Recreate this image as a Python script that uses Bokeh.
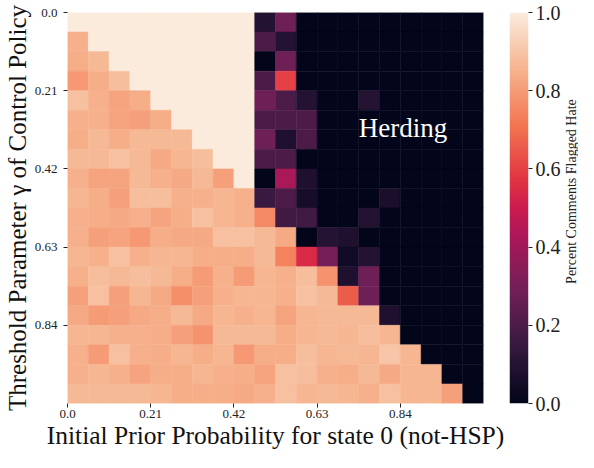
import numpy as np
from bokeh.plotting import figure
from bokeh.layouts import row
from bokeh.models import (LinearColorMapper, FixedTicker, PrintfTickFormatter,
                          Label, ColumnDataSource)
from bokeh.transform import transform
from bokeh.embed import file_html
from bokeh.resources import INLINE

# ---------------- data ----------------
x_tick_labels = ["0.0", "0.21", "0.42", "0.63", "0.84"]
y_tick_labels = ["0.0", "0.21", "0.42", "0.63", "0.84"]
tick_index = [0, 4, 8, 12, 16]
cbar_ticks = [0.0, 0.2, 0.4, 0.6, 0.8, 1.0]

# rows: threshold gamma (top -> bottom), columns: initial prior (left -> right)
flag_rate = [
    [1.00, 1.00, 1.00, 1.00, 1.00, 1.00, 1.00, 1.00, 1.00, 0.09, 0.28, 0.00, 0.00, 0.00, 0.00, 0.00, 0.00, 0.00, 0.00, 0.00],
    [0.85, 1.00, 1.00, 1.00, 1.00, 1.00, 1.00, 1.00, 1.00, 0.20, 0.09, 0.00, 0.00, 0.00, 0.00, 0.00, 0.00, 0.00, 0.00, 0.00],
    [0.84, 0.87, 1.00, 1.00, 1.00, 1.00, 1.00, 1.00, 1.00, 0.00, 0.28, 0.00, 0.00, 0.00, 0.00, 0.00, 0.00, 0.00, 0.00, 0.00],
    [0.79, 0.84, 0.88, 1.00, 1.00, 1.00, 1.00, 1.00, 1.00, 0.20, 0.60, 0.00, 0.00, 0.00, 0.00, 0.00, 0.00, 0.00, 0.00, 0.00],
    [0.89, 0.85, 0.82, 0.84, 1.00, 1.00, 1.00, 1.00, 1.00, 0.28, 0.20, 0.09, 0.00, 0.00, 0.10, 0.00, 0.00, 0.00, 0.00, 0.00],
    [0.85, 0.85, 0.82, 0.81, 0.84, 1.00, 1.00, 1.00, 1.00, 0.20, 0.20, 0.20, 0.00, 0.00, 0.00, 0.00, 0.00, 0.00, 0.00, 0.00],
    [0.84, 0.87, 0.84, 0.87, 0.87, 0.87, 1.00, 1.00, 1.00, 0.28, 0.08, 0.20, 0.00, 0.00, 0.00, 0.00, 0.00, 0.00, 0.00, 0.00],
    [0.87, 0.87, 0.89, 0.87, 0.83, 0.86, 0.88, 1.00, 1.00, 0.20, 0.20, 0.00, 0.00, 0.00, 0.00, 0.00, 0.00, 0.00, 0.00, 0.00],
    [0.85, 0.82, 0.82, 0.87, 0.85, 0.83, 0.87, 0.81, 1.00, 0.00, 0.42, 0.08, 0.00, 0.00, 0.00, 0.00, 0.00, 0.00, 0.00, 0.00],
    [0.86, 0.84, 0.81, 0.88, 0.88, 0.85, 0.85, 0.86, 0.85, 0.15, 0.20, 0.06, 0.00, 0.00, 0.00, 0.07, 0.00, 0.00, 0.00, 0.00],
    [0.85, 0.84, 0.83, 0.85, 0.82, 0.84, 0.89, 0.86, 0.85, 0.76, 0.17, 0.17, 0.00, 0.00, 0.09, 0.00, 0.00, 0.00, 0.00, 0.00],
    [0.85, 0.81, 0.82, 0.79, 0.84, 0.83, 0.83, 0.89, 0.89, 0.87, 0.83, 0.00, 0.10, 0.08, 0.00, 0.00, 0.00, 0.00, 0.00, 0.00],
    [0.86, 0.85, 0.89, 0.85, 0.86, 0.86, 0.84, 0.84, 0.84, 0.87, 0.74, 0.55, 0.30, 0.04, 0.09, 0.00, 0.00, 0.00, 0.00, 0.00],
    [0.85, 0.88, 0.87, 0.88, 0.87, 0.84, 0.80, 0.85, 0.80, 0.86, 0.85, 0.88, 0.78, 0.08, 0.28, 0.00, 0.00, 0.00, 0.00, 0.00],
    [0.81, 0.89, 0.81, 0.86, 0.83, 0.77, 0.81, 0.85, 0.86, 0.86, 0.85, 0.89, 0.87, 0.66, 0.28, 0.00, 0.00, 0.00, 0.00, 0.00],
    [0.83, 0.80, 0.81, 0.83, 0.84, 0.87, 0.83, 0.86, 0.85, 0.86, 0.82, 0.86, 0.87, 0.87, 0.87, 0.08, 0.00, 0.00, 0.00, 0.00],
    [0.86, 0.86, 0.85, 0.85, 0.84, 0.81, 0.78, 0.87, 0.87, 0.87, 0.84, 0.86, 0.87, 0.86, 0.88, 0.86, 0.00, 0.00, 0.00, 0.00],
    [0.85, 0.80, 0.89, 0.85, 0.84, 0.86, 0.84, 0.86, 0.79, 0.84, 0.84, 0.88, 0.86, 0.87, 0.86, 0.90, 0.86, 0.00, 0.00, 0.00],
    [0.85, 0.86, 0.85, 0.82, 0.84, 0.84, 0.86, 0.85, 0.84, 0.82, 0.89, 0.88, 0.85, 0.84, 0.87, 0.83, 0.86, 0.86, 0.00, 0.00],
    [0.87, 0.87, 0.87, 0.87, 0.86, 0.84, 0.84, 0.84, 0.83, 0.85, 0.89, 0.86, 0.87, 0.86, 0.85, 0.89, 0.86, 0.86, 0.81, 0.00],
]

# ---------------- "rocket" colormap ----------------
rocket_stops = [0.0, 1/7, 2/7, 3/7, 0.5, 4/7, 5/7, 6/7, 1.0]
rocket_hex = ["#03051a", "#35193e", "#701f57", "#ad1759", "#cb1b4f",
              "#e13342", "#f37651", "#f6b48f", "#faebdd"]
rgb = np.array([[int(h[i:i + 2], 16) for i in (1, 3, 5)] for h in rocket_hex], dtype=float)
palette = []
for t in np.linspace(0, 1, 256):
    r = np.interp(t, rocket_stops, rgb[:, 0])
    g = np.interp(t, rocket_stops, rgb[:, 1])
    b = np.interp(t, rocket_stops, rgb[:, 2])
    palette.append("#%02x%02x%02x" % (int(round(r)), int(round(g)), int(round(b))))

mapper = LinearColorMapper(palette=palette, low=0.0, high=1.0)

xs, ys, vals = [], [], []
for r, row_vals in enumerate(flag_rate):
    for c, v in enumerate(row_vals):
        xs.append(c + 0.5)
        ys.append(r + 0.5)
        vals.append(v)
src = ColumnDataSource(dict(x=xs, y=ys, v=vals))

FONT = "Liberation Serif"
TXT = "#222222"

# ---------------- heatmap figure ----------------
p = figure(width=505, height=452, x_range=(0, 20), y_range=(20, 0),
           output_backend="svg", toolbar_location=None,
           min_border_left=61, min_border_right=22, min_border_top=12, min_border_bottom=49)

p.rect(x="x", y="y", width=1, height=1, source=src,
       fill_color=transform("v", mapper), line_color=transform("v", mapper), line_width=0.5)

p.grid.visible = False
p.outline_line_color = None

for ax, labels in ((p.xaxis, x_tick_labels), (p.yaxis, y_tick_labels)):
    ax.ticker = FixedTicker(ticks=tick_index)
    ax.major_label_overrides = {i: s for i, s in zip(tick_index, labels)}
    ax.axis_line_color = None
    ax.minor_tick_line_color = None
    ax.major_tick_in = 0
    ax.major_tick_out = 4
    ax.major_tick_line_color = TXT
    ax.major_label_text_font = FONT
    ax.major_label_text_font_size = "13px"
    ax.major_label_text_color = TXT
    ax.axis_label_text_font = FONT
    ax.axis_label_text_font_style = "normal"
    ax.axis_label_text_color = "#111111"

p.xaxis.axis_label = "Initial Prior Probability for state 0 (not-HSP)"
p.xaxis.axis_label_text_font_size = "25.5px"
p.xaxis.major_label_standoff = 2
p.xaxis.axis_label_standoff = 0

p.yaxis.axis_label = "Threshold Parameter \u03b3 of Control Policy"
p.yaxis.axis_label_text_font_size = "25px"
p.yaxis.major_label_standoff = 6
p.yaxis.axis_label_standoff = 1

p.add_layout(Label(x=14.0, y=5.93, text="Herding", text_align="left",
                   text_baseline="alphabetic", text_font=FONT,
                   text_font_size="27px", text_color="white"))

# ---------------- colorbar figure ----------------
cb = figure(width=59, height=452, x_range=(0, 1), y_range=(0, 1),
            output_backend="svg", toolbar_location=None,
            x_axis_location=None, y_axis_location="right",
            min_border_left=4, min_border_right=36, min_border_top=12, min_border_bottom=49)
cb.image(image=[np.linspace(0, 1, 256).reshape(256, 1)], x=0, y=0, dw=1, dh=1,
         color_mapper=mapper)
cb.grid.visible = False
cb.outline_line_color = None
ya = cb.yaxis[0]
ya.ticker = FixedTicker(ticks=cbar_ticks)
ya.formatter = PrintfTickFormatter(format="%.1f")
ya.axis_line_color = None
ya.minor_tick_line_color = None
ya.major_tick_in = 0
ya.major_tick_out = 4
ya.major_tick_line_color = TXT
ya.major_label_text_font = FONT
ya.major_label_text_font_size = "20px"
ya.major_label_text_color = TXT
ya.major_label_standoff = 3

# ---------------- colorbar title strip ----------------
lab = figure(width=14, height=452, x_range=(0, 14), y_range=(460, 8),
             output_backend="svg", toolbar_location=None,
             x_axis_location=None, y_axis_location=None,
             min_border_left=0, min_border_right=0, min_border_top=0, min_border_bottom=0)
lab.grid.visible = False
lab.outline_line_color = None
lab.add_layout(Label(x=7, y=215, text="Percent Comments Flagged Hate",
                     angle=np.pi / 2, text_align="center", text_baseline="middle",
                     text_font=FONT, text_font_size="14px", text_color=TXT))

layout = row(p, cb, lab)
open("out.html", "w").write(file_html(layout, INLINE))
